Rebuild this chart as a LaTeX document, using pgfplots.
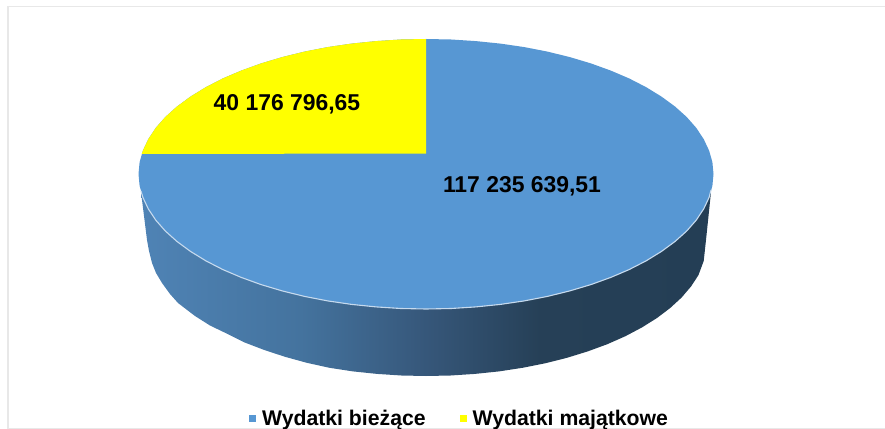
\documentclass[border=0pt]{standalone}
\usepackage{fontspec}
\setmainfont{Liberation Sans}
\usepackage{pgfplots}
\usepackage{pgfplotstable}
\pgfplotsset{compat=1.18}

\definecolor{biezace}{HTML}{5797D3}
\definecolor{majatkowe}{HTML}{FFFF00}
\definecolor{rim}{HTML}{C6DAEE}
\definecolor{frame}{HTML}{E8E8E8}

\pgfdeclarehorizontalshading{sideblue}{100bp}{
  rgb(0bp)=(0.310,0.514,0.710);
  rgb(25bp)=(0.310,0.514,0.710);
  rgb(39bp)=(0.267,0.451,0.620);
  rgb(50bp)=(0.212,0.341,0.478);
  rgb(60bp)=(0.149,0.251,0.341);
  rgb(75bp)=(0.141,0.243,0.333);
  rgb(100bp)=(0.141,0.243,0.333)}

% outline of the top face, in picture pixels
\pgfplotstableread{
x y
713.5 174
712.4 185.8
709.1 197.4
703.7 208.9
696.2 220.2
686.6 231.1
675 241.5
661.5 251.4
646.2 260.8
629.3 269.5
610.8 277.4
590.9 284.6
569.8 290.9
547.5 296.4
524.3 300.9
500.4 304.4
475.9 306.9
451.1 308.5
426 309
400.9 308.5
376.1 306.9
351.6 304.4
327.7 300.9
304.5 296.4
282.2 290.9
261.1 284.6
241.2 277.4
222.7 269.5
205.8 260.8
190.5 251.4
177 241.5
165.4 231.1
155.8 220.2
148.3 208.9
142.9 197.4
139.6 185.8
138.5 174
139.6 162.2
142.9 150.6
148.3 139.1
155.8 127.8
165.4 116.9
177 106.5
190.5 96.6
205.8 87.2
222.7 78.5
241.2 70.6
261.1 63.4
282.2 57.1
304.5 51.6
327.7 47.1
351.6 43.6
376.1 41.1
400.9 39.5
426 39
451.1 39.5
475.9 41.1
500.4 43.6
524.3 47.1
547.5 51.6
569.8 57.1
590.9 63.4
610.8 70.6
629.3 78.5
646.2 87.2
661.5 96.6
675 106.5
686.6 116.9
696.2 127.8
703.7 139.1
709.1 150.6
712.4 162.2
713.5 174
}\topface

% yellow slice
\pgfplotstableread{
x y
426 153.5
141.7 154
142.9 150.6
148.3 139.1
155.8 127.8
165.4 116.9
177 106.5
190.5 96.6
205.8 87.2
222.7 78.5
241.2 70.6
261.1 63.4
282.2 57.1
304.5 51.6
327.7 47.1
351.6 43.6
376.1 41.1
400.9 39.5
426 39
426 153.5
}\yellowslice

% front wall, read off the lower edge
\pgfplotstableread{
x y
711 192
706 240
703.7 261
698.4 275.2
691 286.5
681.6 297.5
670.2 308
657 318
642 327.4
625.4 336.2
607.3 344.2
587.7 351.4
567 357.8
545.2 363.3
522.5 367.8
499 371.4
475 373.9
450.6 375.5
426 376
401.4 375.5
377 373.9
353 371.4
329.5 367.8
306.8 362.8
285 356.8
264.3 350
244.7 342.5
226.6 333.5
210 325.5
195 316
178 303
170 294
162 283
156 273
152 263
149 251
147 240
141 192
}\frontwall

% light rim along the front of the top face
\pgfplotstableread{
x y
711 190
709.1 197.4
703.7 208.9
696.2 220.2
686.6 231.1
675 241.5
661.5 251.4
646.2 260.8
629.3 269.5
610.8 277.4
590.9 284.6
569.8 290.9
547.5 296.4
524.3 300.9
500.4 304.4
475.9 306.9
451.1 308.5
426 309
400.9 308.5
376.1 306.9
351.6 304.4
327.7 300.9
304.5 296.4
282.2 290.9
261.1 284.6
241.2 277.4
222.7 269.5
205.8 260.8
190.5 251.4
177 241.5
165.4 231.1
155.8 220.2
148.3 208.9
142.9 197.4
141 191
}\rimline

\begin{document}
\begin{tikzpicture}
\begin{axis}[
  scale only axis,
  width=885bp, height=429bp,
  xmin=0, xmax=885, ymin=0, ymax=429,
  y dir=reverse,
  axis lines=none,
  clip=true,
  legend columns=2,
  legend cell align=left,
  legend style={draw=none, fill=none, inner sep=0pt, outer sep=0pt, overlay,
    at={(0.5193,0.024)}, anchor=center,
    font=\fontsize{21.3}{23}\selectfont\bfseries,
    /tikz/every even column/.append style={column sep=32bp},
    /tikz/every odd column/.append style={column sep=4bp}},
  legend image code/.code={\path[#1,draw=none] (0bp,-3.5bp) rectangle (7bp,3.5bp);},
]
  % keeps the page as large as the whole axis
  \path (axis cs:0,0) rectangle (axis cs:885,429);

  % picture frame
  \addplot[frame, line width=1.3bp, forget plot] coordinates {(8,429) (8,6.5) (885,6.5)};
  \addplot[frame, line width=1bp, forget plot] coordinates {(8,428.3) (885,428.3)};

  \addplot[draw=none, shade, shading=sideblue, forget plot] table[x=x,y=y] {\frontwall};

  \addplot[draw=none, fill=biezace] table[x=x,y=y] {\topface};
  \addlegendentry{Wydatki bieżące}
  \addplot[draw=none, fill=majatkowe] table[x=x,y=y] {\yellowslice};
  \addlegendentry{Wydatki majątkowe}
  \addplot[rim, line width=1.1bp, forget plot] table[x=x,y=y] {\rimline};

  \node[font=\fontsize{23}{26}\selectfont\bfseries] at (axis cs:287,104) {40 176 796,65};
  \node[font=\fontsize{23}{26}\selectfont\bfseries] at (axis cs:522,186) {117 235 639,51};
\end{axis}
\end{tikzpicture}
\end{document}
